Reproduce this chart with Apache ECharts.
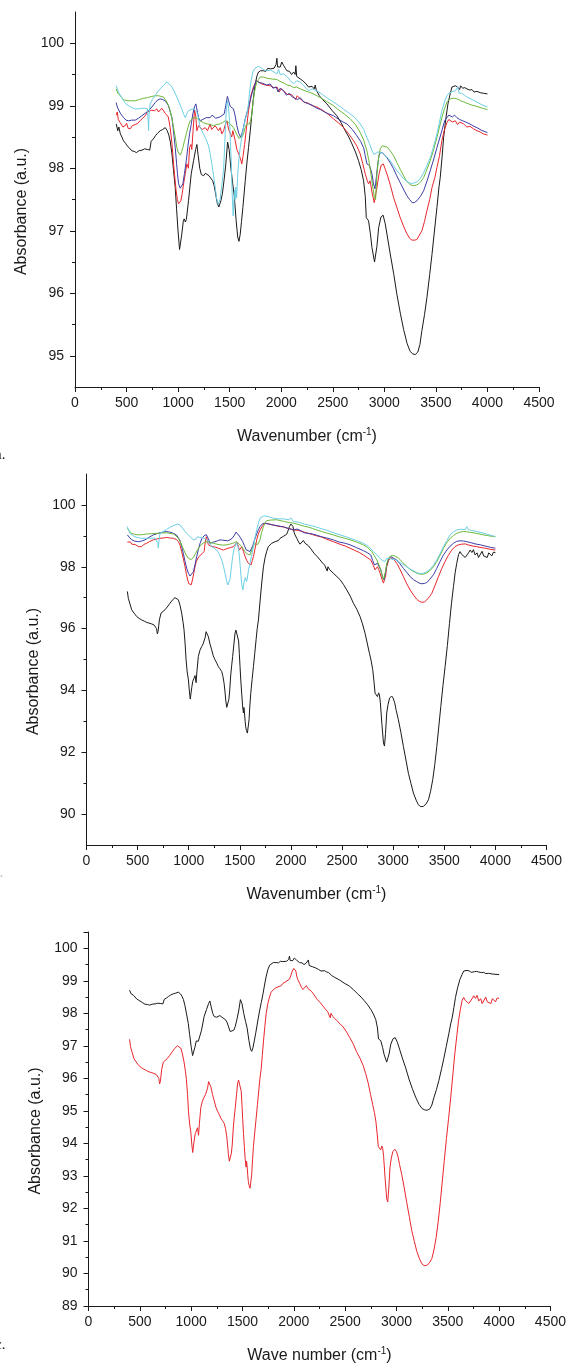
<!DOCTYPE html>
<html>
<head>
<meta charset="utf-8">
<script src="https://cdn.jsdelivr.net/npm/echarts@6/dist/echarts.min.js"></script>
<style>
  html, body { margin: 0; padding: 0; background: #fff; }
  #chart { width: 569px; height: 1367px; }
</style>
</head>
<body>
<div id="chart"></div>
<script>
// wavenumber / absorbance pairs

// panel a (also black curve of panel c)
var aBlack = [[400,98.71],[415,98.6],[425,98.66],[440,98.55],[455,98.5],[470,98.44],[490,98.4],[505,98.36],[525,98.33],[550,98.28],[575,98.27],[595,98.25],[620,98.28],[650,98.29],[675,98.31],[690,98.33],[705,98.3],[715,98.31],[725,98.29],[738,98.43],[760,98.47],[780,98.52],[800,98.56],[826,98.6],[850,98.62],[875,98.65],[895,98.6],[910,98.53],[925,98.42],[940,98.23],[955,97.98],[972,97.69],[985,97.35],[1000,96.98],[1014,96.7],[1022,96.67],[1036,96.95],[1050,97.15],[1059,97.19],[1070,97.14],[1080,97.18],[1101,97.48],[1127,97.91],[1150,98.12],[1170,98.3],[1182,98.38],[1195,98.2],[1210,98.0],[1225,97.9],[1247,97.88],[1265,97.92],[1280,97.93],[1300,97.88],[1318,97.85],[1335,97.8],[1350,97.72],[1365,97.58],[1380,97.44],[1395,97.38],[1415,97.48],[1430,97.6],[1445,97.8],[1463,98.07],[1480,98.42],[1495,98.3],[1512,98.0],[1530,97.75],[1545,97.55],[1563,97.16],[1578,96.9],[1590,96.83],[1602,96.94],[1615,97.15],[1628,97.37],[1651,97.8],[1668,98.1],[1683,98.33],[1700,98.6],[1715,98.87],[1730,99.12],[1748,99.35],[1765,99.48],[1780,99.54],[1800,99.56],[1828,99.56],[1850,99.55],[1870,99.6],[1893,99.59],[1910,99.56],[1930,99.6],[1950,99.66],[1958,99.76],[1965,99.62],[1975,99.65],[1990,99.62],[2005,99.7],[2016,99.7],[2025,99.64],[2040,99.6],[2055,99.56],[2080,99.55],[2100,99.5],[2120,99.54],[2135,99.5],[2142,99.64],[2150,99.47],[2165,99.44],[2184,99.43],[2210,99.4],[2240,99.35],[2265,99.3],[2300,99.31],[2320,99.27],[2330,99.33],[2340,99.25],[2370,99.16],[2400,99.1],[2443,99.03],[2490,98.93],[2540,98.84],[2580,98.73],[2621,98.6],[2655,98.5],[2686,98.39],[2720,98.26],[2750,98.12],[2775,97.98],[2799,97.8],[2815,97.55],[2825,97.21],[2847,97.16],[2865,96.95],[2880,96.73],[2905,96.5],[2918,96.47],[2928,96.75],[2945,97.05],[2967,97.22],[2988,97.25],[3009,97.11],[3030,96.9],[3057,96.63],[3090,96.32],[3122,95.98],[3155,95.68],[3187,95.42],[3220,95.2],[3250,95.07],[3275,95.03],[3300,95.02],[3325,95.06],[3345,95.18],[3364,95.4],[3390,95.66],[3413,95.93],[3440,96.3],[3462,96.62],[3485,96.98],[3510,97.37],[3530,97.7],[3542,97.85],[3560,98.18],[3575,98.49],[3597,98.8],[3617,99.03],[3640,99.2],[3656,99.3],[3670,99.28],[3688,99.32],[3710,99.3],[3730,99.26],[3740,99.32],[3760,99.28],[3780,99.29],[3801,99.27],[3830,99.25],[3850,99.26],[3870,99.22],[3898,99.23],[3930,99.21],[3960,99.2],[4000,99.19]];

var aRed = [[400,98.85],[410,98.9],[420,98.78],[438,98.73],[450,98.76],[465,98.66],[487,98.68],[500,98.72],[515,98.64],[535,98.63],[555,98.68],[570,98.65],[584,98.7],[610,98.72],[632,98.76],[655,98.8],[681,98.84],[703,98.9],[720,98.87],[745,98.93],[770,98.92],[794,98.95],[810,98.9],[826,98.9],[842,98.96],[859,98.95],[875,98.88],[891,98.9],[905,98.82],[923,98.65],[940,98.4],[956,98.07],[970,97.82],[981,97.64],[993,97.5],[1004,97.43],[1018,97.4],[1027,97.48],[1040,97.6],[1053,97.75],[1070,97.92],[1085,98.07],[1100,98.0],[1111,98.33],[1125,98.38],[1133,98.3],[1145,98.6],[1159,98.93],[1170,98.85],[1182,98.6],[1198,98.68],[1214,98.71],[1235,98.62],[1263,98.65],[1285,98.6],[1311,98.71],[1325,98.62],[1344,98.6],[1360,98.68],[1376,98.71],[1392,98.6],[1408,98.65],[1425,98.55],[1441,98.6],[1458,98.7],[1473,98.76],[1490,98.62],[1505,98.65],[1520,98.5],[1531,98.6],[1554,98.44],[1570,98.3],[1590,98.22],[1605,98.15],[1618,98.07],[1630,98.2],[1645,98.38],[1660,98.6],[1683,98.92],[1705,99.16],[1731,99.3],[1757,99.4],[1780,99.38],[1810,99.35],[1850,99.33],[1893,99.32],[1930,99.29],[1960,99.3],[1980,99.22],[2000,99.27],[2023,99.24],[2060,99.18],[2100,99.18],[2140,99.1],[2155,99.16],[2184,99.11],[2220,99.06],[2265,99.04],[2300,99.0],[2346,98.98],[2400,98.93],[2450,98.87],[2508,98.79],[2560,98.72],[2605,98.65],[2650,98.56],[2702,98.44],[2735,98.35],[2766,98.23],[2790,98.08],[2815,97.91],[2835,97.8],[2847,97.75],[2862,97.8],[2880,97.62],[2902,97.45],[2915,97.46],[2928,97.69],[2950,97.92],[2970,98.05],[2990,98.07],[3010,97.98],[3025,97.91],[3060,97.72],[3090,97.53],[3120,97.38],[3154,97.21],[3190,97.06],[3219,96.95],[3245,96.88],[3268,96.85],[3295,96.85],[3316,96.86],[3340,96.93],[3364,97.0],[3390,97.15],[3413,97.32],[3440,97.5],[3462,97.69],[3490,97.85],[3510,98.01],[3535,98.2],[3558,98.44],[3580,98.6],[3607,98.73],[3625,98.78],[3639,98.79],[3660,98.74],[3688,98.76],[3710,98.7],[3730,98.74],[3769,98.71],[3800,98.66],[3830,98.67],[3866,98.63],[3900,98.6],[3930,98.58],[3960,98.55],[4000,98.53]];

var aBlue = [[400,99.05],[410,98.98],[422,98.95],[440,98.88],[455,98.85],[471,98.81],[495,98.77],[519,98.76],[550,98.77],[584,98.77],[615,98.8],[648,98.84],[680,98.88],[713,98.92],[745,98.98],[778,99.05],[800,99.09],[826,99.11],[850,99.1],[875,99.08],[890,99.06],[907,99.0],[920,98.92],[940,98.81],[955,98.6],[972,98.33],[985,98.08],[994,97.91],[1005,97.75],[1020,97.68],[1030,97.68],[1046,97.75],[1062,97.92],[1079,98.12],[1095,98.35],[1111,98.55],[1127,98.7],[1143,98.87],[1158,98.98],[1172,99.03],[1182,99.0],[1198,98.81],[1215,98.76],[1231,98.76],[1250,98.79],[1272,98.81],[1290,98.78],[1311,98.81],[1330,98.85],[1344,98.84],[1365,98.8],[1382,98.79],[1405,98.82],[1424,98.81],[1447,98.87],[1462,99.0],[1478,99.15],[1490,99.08],[1505,98.99],[1520,98.97],[1537,98.95],[1552,98.85],[1570,98.68],[1588,98.56],[1605,98.5],[1618,98.55],[1634,98.65],[1652,98.8],[1673,98.92],[1695,99.05],[1715,99.19],[1735,99.3],[1757,99.4],[1790,99.37],[1820,99.36],[1860,99.33],[1893,99.35],[1920,99.28],[1950,99.3],[1970,99.22],[1990,99.28],[2023,99.24],[2050,99.17],[2080,99.2],[2100,99.15],[2130,99.12],[2160,99.1],[2184,99.13],[2220,99.06],[2265,99.03],[2300,99.01],[2346,98.96],[2380,98.94],[2420,98.9],[2460,98.87],[2508,98.84],[2560,98.78],[2600,98.74],[2637,98.71],[2690,98.62],[2734,98.52],[2770,98.43],[2799,98.33],[2815,98.2],[2831,98.07],[2845,98.05],[2857,98.04],[2870,97.97],[2880,97.91],[2895,97.75],[2910,97.67],[2920,97.7],[2935,98.05],[2948,98.2],[2965,98.26],[2980,98.27],[3000,98.22],[3025,98.17],[3060,98.08],[3090,97.99],[3120,97.88],[3154,97.77],[3190,97.65],[3219,97.56],[3245,97.5],[3270,97.45],[3290,97.45],[3316,97.48],[3350,97.55],[3381,97.64],[3415,97.8],[3445,97.96],[3480,98.15],[3510,98.33],[3535,98.47],[3558,98.6],[3585,98.76],[3607,98.81],[3625,98.85],[3639,98.84],[3660,98.82],[3680,98.85],[3704,98.81],[3730,98.78],[3760,98.76],[3801,98.73],[3840,98.7],[3870,98.67],[3898,98.65],[3940,98.61],[4000,98.57]];

var aGreen = [[400,99.27],[415,99.2],[438,99.16],[470,99.1],[503,99.08],[540,99.08],[584,99.08],[625,99.1],[665,99.12],[705,99.13],[745,99.15],[780,99.16],[810,99.16],[835,99.15],[859,99.14],[875,99.11],[891,99.06],[907,99.0],[923,98.92],[940,98.8],[956,98.65],[972,98.5],[988,98.33],[1000,98.26],[1014,98.23],[1022,98.21],[1035,98.27],[1046,98.33],[1062,98.44],[1079,98.55],[1098,98.67],[1117,98.76],[1140,98.8],[1166,98.81],[1190,98.79],[1214,98.76],[1245,98.73],[1279,98.71],[1310,98.7],[1344,98.68],[1375,98.7],[1408,98.71],[1430,98.73],[1457,98.76],[1480,98.74],[1505,98.71],[1520,98.68],[1537,98.65],[1558,98.58],[1576,98.52],[1590,98.48],[1605,98.46],[1620,98.5],[1634,98.55],[1650,98.65],[1667,98.71],[1680,98.72],[1693,98.71],[1705,98.78],[1715,98.87],[1727,99.05],[1738,99.19],[1750,99.3],[1764,99.38],[1780,99.42],[1796,99.46],[1830,99.46],[1861,99.44],[1900,99.43],[1958,99.42],[2000,99.38],[2030,99.36],[2060,99.33],[2090,99.32],[2120,99.29],[2150,99.3],[2184,99.27],[2230,99.24],[2265,99.22],[2300,99.2],[2346,99.16],[2400,99.11],[2450,99.06],[2508,99.0],[2560,98.93],[2610,98.87],[2669,98.79],[2720,98.7],[2766,98.57],[2800,98.45],[2831,98.28],[2850,98.12],[2870,97.91],[2888,97.7],[2902,97.55],[2915,97.5],[2928,97.9],[2945,98.18],[2960,98.31],[2980,98.36],[2998,98.38],[3025,98.34],[3057,98.28],[3090,98.2],[3122,98.09],[3155,97.98],[3187,97.88],[3210,97.81],[3235,97.76],[3260,97.73],[3284,97.72],[3310,97.73],[3332,97.75],[3355,97.79],[3381,97.85],[3410,97.97],[3445,98.12],[3475,98.28],[3510,98.49],[3535,98.66],[3558,98.81],[3585,98.96],[3607,99.06],[3630,99.1],[3656,99.12],[3680,99.12],[3704,99.11],[3740,99.08],[3770,99.06],[3801,99.04],[3850,99.01],[3898,98.99],[3950,98.96],[4000,98.94]];

var aCyan = [[400,99.32],[410,99.27],[422,99.22],[445,99.15],[471,99.08],[495,99.03],[519,99.0],[550,98.97],[584,98.95],[615,98.95],[648,98.96],[675,98.96],[703,98.95],[710,98.75],[713,98.6],[718,98.85],[729,99.03],[750,99.1],[778,99.16],[800,99.22],[826,99.27],[860,99.33],[891,99.38],[905,99.37],[920,99.34],[940,99.3],[965,99.22],[988,99.14],[1010,99.05],[1036,98.95],[1055,98.86],[1069,98.81],[1085,98.88],[1101,98.92],[1125,98.94],[1150,98.95],[1166,98.93],[1182,98.9],[1198,98.8],[1214,98.65],[1230,98.6],[1247,98.57],[1270,98.47],[1295,98.36],[1312,98.22],[1327,98.07],[1344,97.88],[1360,97.69],[1375,97.5],[1390,97.42],[1400,97.4],[1408,97.51],[1425,97.75],[1441,97.97],[1455,98.5],[1466,98.9],[1478,99.08],[1490,98.95],[1499,98.76],[1508,98.4],[1515,98.12],[1524,97.6],[1534,97.24],[1540,97.22],[1547,97.65],[1553,97.5],[1560,97.7],[1568,97.53],[1576,97.85],[1590,98.15],[1602,98.33],[1618,98.5],[1634,98.65],[1650,98.77],[1667,98.87],[1680,99.0],[1693,99.22],[1708,99.4],[1725,99.54],[1745,99.6],[1764,99.62],[1780,99.63],[1810,99.6],[1840,99.57],[1861,99.56],[1893,99.57],[1920,99.55],[1958,99.51],[1975,99.58],[1990,99.5],[2023,99.51],[2060,99.46],[2090,99.4],[2120,99.35],[2150,99.4],[2184,99.38],[2220,99.32],[2265,99.24],[2300,99.27],[2346,99.24],[2400,99.18],[2450,99.12],[2508,99.06],[2560,99.0],[2610,98.94],[2669,98.87],[2720,98.8],[2766,98.71],[2800,98.62],[2831,98.49],[2855,98.4],[2880,98.28],[2900,98.22],[2918,98.2],[2935,98.26],[2950,98.28],[2970,98.25],[2993,98.23],[3025,98.18],[3057,98.12],[3090,98.04],[3122,97.96],[3155,97.9],[3187,97.83],[3220,97.79],[3251,97.76],[3280,97.76],[3316,97.78],[3350,97.84],[3381,97.93],[3410,98.03],[3445,98.17],[3475,98.33],[3510,98.55],[3535,98.74],[3558,98.92],[3585,99.07],[3607,99.16],[3625,99.2],[3639,99.22],[3665,99.23],[3690,99.24],[3712,99.3],[3725,99.2],[3750,99.2],[3775,99.17],[3801,99.14],[3850,99.1],[3898,99.06],[3940,99.02],[4000,98.98]];

// panel b (black curve is also the red curve of panel c)
var bBlack = [[400,97.2],[409,96.98],[425,96.8],[442,96.61],[465,96.5],[491,96.39],[515,96.33],[540,96.28],[565,96.24],[589,96.2],[610,96.18],[638,96.15],[660,96.12],[675,96.1],[685,96.0],[693,95.83],[700,95.9],[707,96.1],[713,96.28],[729,96.5],[745,96.55],[768,96.61],[790,96.7],[817,96.82],[840,96.92],[866,97.0],[880,97.02],[899,96.93],[915,96.75],[931,96.5],[945,96.2],[954,95.96],[965,95.5],[974,94.99],[985,94.6],[997,94.34],[1007,93.95],[1015,93.72],[1022,93.75],[1030,94.1],[1040,94.3],[1050,94.38],[1062,94.48],[1072,94.25],[1080,94.6],[1094,95.1],[1110,95.3],[1127,95.42],[1140,95.5],[1150,95.53],[1160,95.7],[1170,95.9],[1180,95.95],[1192,95.74],[1208,95.5],[1225,95.31],[1240,95.12],[1257,94.99],[1275,94.88],[1290,94.77],[1305,94.7],[1323,94.61],[1335,94.45],[1346,94.23],[1355,93.95],[1362,93.69],[1372,93.45],[1385,93.4],[1392,93.7],[1400,93.95],[1411,94.5],[1420,94.8],[1430,95.1],[1442,95.5],[1453,95.85],[1462,95.95],[1472,96.0],[1480,95.9],[1488,95.6],[1495,95.2],[1502,94.77],[1510,94.3],[1518,93.91],[1527,93.5],[1535,93.27],[1540,93.45],[1545,93.3],[1552,93.0],[1557,92.83],[1565,92.7],[1574,92.62],[1582,92.58],[1590,93.05],[1598,93.5],[1607,93.91],[1620,94.35],[1633,94.77],[1646,95.2],[1659,95.64],[1670,96.0],[1682,96.28],[1693,96.7],[1705,97.15],[1718,97.6],[1731,98.0],[1747,98.3],[1763,98.5],[1779,98.65],[1796,98.71],[1812,98.76],[1830,98.8],[1845,98.81],[1860,98.86],[1878,98.85],[1894,98.92],[1910,98.9],[1925,98.98],[1942,99.03],[1958,99.05],[1970,99.15],[1985,99.3],[2000,99.38],[2012,99.42],[2020,99.3],[2030,99.12],[2040,99.03],[2057,98.92],[2075,98.8],[2089,98.73],[2105,98.76],[2122,98.85],[2138,98.76],[2155,98.72],[2171,98.68],[2190,98.6],[2203,98.54],[2230,98.42],[2260,98.32],[2285,98.22],[2310,98.12],[2330,98.05],[2344,98.0],[2355,97.86],[2362,98.0],[2380,97.9],[2415,97.79],[2450,97.68],[2481,97.58],[2515,97.42],[2546,97.25],[2580,97.05],[2611,96.82],[2645,96.62],[2676,96.39],[2700,96.15],[2725,95.85],[2748,95.5],[2768,95.2],[2785,94.95],[2800,94.67],[2812,94.3],[2823,93.91],[2835,93.85],[2846,93.8],[2858,93.92],[2866,93.85],[2875,93.6],[2890,92.9],[2905,92.3],[2915,92.2],[2925,92.6],[2937,93.27],[2950,93.55],[2965,93.75],[2985,93.82],[3000,93.75],[3015,93.6],[3030,93.35],[3051,93.05],[3075,92.65],[3100,92.19],[3125,91.75],[3149,91.32],[3175,90.98],[3198,90.68],[3225,90.45],[3247,90.3],[3270,90.24],[3296,90.25],[3320,90.32],[3345,90.46],[3365,90.72],[3387,91.11],[3407,91.6],[3427,92.19],[3447,92.85],[3466,93.48],[3487,94.15],[3508,94.77],[3530,95.45],[3551,96.17],[3570,96.8],[3590,97.36],[3606,97.8],[3622,98.11],[3640,98.4],[3655,98.49],[3670,98.4],[3688,98.38],[3705,98.3],[3720,98.28],[3737,98.45],[3753,98.54],[3770,98.46],[3785,98.55],[3802,98.38],[3820,98.45],[3835,98.3],[3851,98.36],[3870,98.5],[3885,98.35],[3900,98.41],[3920,98.3],[3935,98.45],[3949,98.44],[3965,98.35],[3980,98.47],[4000,98.46]];

var bRed = [[400,98.8],[415,98.75],[430,98.8],[442,98.73],[460,98.68],[475,98.72],[491,98.68],[510,98.65],[525,98.7],[540,98.65],[560,98.72],[589,98.76],[620,98.82],[654,98.87],[690,98.9],[719,98.92],[750,98.93],[784,98.95],[815,98.93],[850,98.92],[880,98.88],[899,98.81],[915,98.7],[931,98.49],[948,98.25],[964,98.0],[978,97.75],[990,97.57],[1002,97.45],[1013,97.41],[1025,97.42],[1036,97.57],[1050,97.8],[1062,98.0],[1075,98.18],[1085,98.15],[1098,98.32],[1111,98.38],[1130,98.42],[1150,98.49],[1162,98.8],[1172,98.97],[1182,98.85],[1192,98.71],[1215,98.67],[1241,98.65],[1265,98.63],[1290,98.6],[1315,98.57],[1339,98.54],[1362,98.57],[1388,98.6],[1410,98.62],[1437,98.65],[1455,98.7],[1470,98.78],[1482,98.7],[1496,98.54],[1508,98.6],[1518,98.65],[1535,98.5],[1551,98.33],[1568,98.2],[1584,98.11],[1598,98.07],[1610,98.06],[1622,98.2],[1633,98.33],[1650,98.6],[1665,98.87],[1680,99.05],[1698,99.19],[1720,99.32],[1747,99.41],[1780,99.39],[1812,99.36],[1850,99.33],[1894,99.3],[1926,99.29],[1960,99.25],[2000,99.22],[2024,99.19],[2060,99.18],[2089,99.16],[2130,99.12],[2171,99.08],[2210,99.04],[2252,99.0],[2300,98.96],[2350,98.89],[2415,98.81],[2470,98.74],[2530,98.67],[2578,98.6],[2630,98.52],[2670,98.46],[2709,98.38],[2745,98.3],[2781,98.22],[2805,98.05],[2823,97.9],[2835,97.95],[2846,98.0],[2860,97.9],[2872,97.79],[2890,97.6],[2905,97.47],[2915,97.46],[2925,97.7],[2937,98.0],[2955,98.2],[2976,98.29],[2992,98.3],[3010,98.22],[3035,98.11],[3065,97.93],[3100,97.68],[3133,97.45],[3166,97.25],[3200,97.08],[3231,96.95],[3255,96.88],[3280,96.85],[3305,96.86],[3329,96.93],[3355,97.03],[3378,97.14],[3410,97.4],[3443,97.68],[3475,97.94],[3508,98.17],[3540,98.37],[3573,98.54],[3605,98.65],[3639,98.71],[3670,98.73],[3704,98.74],[3740,98.7],[3780,98.67],[3818,98.65],[3860,98.62],[3900,98.6],[3940,98.57],[4000,98.54]];

var bBlue = [[400,99.03],[420,98.95],[442,98.87],[470,98.83],[507,98.81],[540,98.83],[572,98.87],[610,98.95],[654,99.03],[690,99.07],[719,99.1],[750,99.12],[784,99.14],[815,99.12],[850,99.08],[880,99.03],[899,98.97],[915,98.85],[931,98.65],[948,98.42],[964,98.17],[980,97.95],[997,97.79],[1013,97.7],[1030,97.68],[1046,97.84],[1062,98.08],[1078,98.33],[1095,98.56],[1111,98.76],[1130,98.92],[1150,99.0],[1172,99.04],[1190,98.92],[1209,98.76],[1233,98.79],[1257,98.81],[1282,98.84],[1306,98.87],[1330,98.86],[1355,98.85],[1380,98.84],[1404,98.87],[1425,98.92],[1443,99.0],[1463,99.12],[1478,99.15],[1496,98.99],[1512,98.9],[1528,98.81],[1545,98.68],[1561,98.55],[1580,98.5],[1600,98.49],[1612,98.52],[1626,98.68],[1645,98.88],[1665,99.06],[1682,99.2],[1698,99.3],[1715,99.37],[1737,99.41],[1780,99.38],[1828,99.35],[1880,99.32],[1926,99.29],[1975,99.24],[2024,99.19],[2060,99.22],[2089,99.18],[2130,99.1],[2171,99.08],[2210,99.06],[2252,99.02],[2300,98.97],[2350,98.93],[2415,98.87],[2470,98.8],[2530,98.76],[2578,98.71],[2640,98.62],[2709,98.52],[2750,98.45],[2781,98.38],[2800,98.2],[2817,98.06],[2832,98.1],[2846,98.11],[2862,98.0],[2879,97.9],[2895,97.68],[2910,97.57],[2918,97.58],[2928,97.85],[2937,98.06],[2955,98.25],[2976,98.33],[3000,98.28],[3035,98.22],[3065,98.1],[3100,97.95],[3133,97.82],[3166,97.68],[3200,97.58],[3231,97.52],[3255,97.47],[3280,97.45],[3305,97.46],[3329,97.49],[3360,97.6],[3394,97.74],[3425,97.94],[3459,98.17],[3490,98.37],[3525,98.54],[3555,98.66],[3590,98.76],[3620,98.82],[3655,98.84],[3690,98.83],[3720,98.81],[3760,98.78],[3800,98.74],[3851,98.71],[3900,98.67],[3950,98.63],[4000,98.6]];

var bGreen = [[400,99.24],[420,99.15],[442,99.08],[470,99.05],[507,99.03],[545,99.04],[589,99.06],[640,99.07],[686,99.08],[735,99.09],[784,99.1],[815,99.08],[850,99.06],[875,99.0],[899,98.92],[918,98.8],[938,98.65],[955,98.52],[974,98.38],[995,98.28],[1013,98.22],[1025,98.23],[1046,98.31],[1065,98.42],[1085,98.54],[1105,98.65],[1127,98.73],[1150,98.78],[1176,98.81],[1205,98.79],[1241,98.76],[1275,98.73],[1306,98.71],[1340,98.7],[1372,98.71],[1400,98.73],[1430,98.76],[1450,98.79],[1470,98.81],[1490,98.75],[1518,98.65],[1535,98.57],[1551,98.49],[1568,98.42],[1584,98.38],[1600,98.38],[1617,98.54],[1633,98.68],[1649,98.76],[1660,98.73],[1672,98.71],[1685,98.72],[1698,98.87],[1712,99.1],[1731,99.3],[1747,99.42],[1763,99.49],[1800,99.51],[1861,99.52],[1926,99.47],[1980,99.43],[2024,99.41],[2060,99.38],[2089,99.35],[2130,99.31],[2171,99.28],[2210,99.24],[2252,99.19],[2300,99.14],[2350,99.09],[2415,99.03],[2470,98.97],[2530,98.92],[2578,98.87],[2640,98.8],[2709,98.71],[2750,98.62],[2790,98.49],[2815,98.36],[2840,98.22],[2860,98.07],[2879,97.9],[2893,97.7],[2905,97.58],[2915,97.56],[2925,97.85],[2937,98.11],[2955,98.28],[2975,98.35],[2990,98.38],[3010,98.36],[3051,98.28],[3085,98.17],[3117,98.06],[3150,97.96],[3182,97.88],[3215,97.82],[3247,97.77],[3270,97.76],[3296,97.76],[3330,97.8],[3361,97.88],[3395,98.0],[3427,98.17],[3460,98.38],[3492,98.6],[3525,98.78],[3557,98.92],[3590,99.01],[3622,99.08],[3655,99.12],[3688,99.14],[3720,99.13],[3760,99.11],[3818,99.08],[3870,99.04],[3920,99.01],[3974,98.98],[4000,98.97]];

var bCyan = [[400,99.3],[412,99.18],[425,99.08],[450,99.02],[474,98.97],[505,98.94],[540,98.92],[570,98.92],[605,98.92],[640,98.92],[670,98.93],[686,98.92],[698,98.75],[703,98.6],[708,98.8],[719,99.08],[750,99.14],[784,99.21],[820,99.28],[850,99.33],[866,99.37],[890,99.38],[915,99.35],[940,99.25],[964,99.14],[990,99.05],[1013,98.97],[1030,98.92],[1046,98.87],[1060,98.85],[1072,98.9],[1085,98.97],[1105,98.95],[1127,98.95],[1150,98.92],[1176,98.87],[1200,98.77],[1225,98.65],[1250,98.6],[1274,98.54],[1300,98.4],[1323,98.22],[1340,98.02],[1355,97.79],[1370,97.55],[1382,97.41],[1395,97.4],[1404,97.6],[1418,98.0],[1430,98.33],[1442,98.55],[1453,98.65],[1465,98.78],[1475,98.81],[1487,98.6],[1496,98.33],[1504,98.0],[1512,97.68],[1520,97.4],[1530,97.25],[1538,97.22],[1545,97.57],[1553,97.65],[1561,97.68],[1566,97.52],[1572,97.6],[1585,97.9],[1600,98.11],[1617,98.4],[1633,98.65],[1649,98.95],[1665,99.19],[1682,99.42],[1698,99.57],[1715,99.62],[1731,99.64],[1763,99.64],[1800,99.6],[1828,99.57],[1870,99.55],[1926,99.55],[1980,99.52],[2000,99.58],[2024,99.46],[2060,99.45],[2089,99.43],[2130,99.38],[2171,99.35],[2185,99.4],[2210,99.32],[2252,99.28],[2300,99.23],[2350,99.18],[2415,99.1],[2470,99.04],[2530,98.98],[2578,98.92],[2640,98.85],[2709,98.76],[2760,98.65],[2807,98.49],[2840,98.38],[2872,98.27],[2895,98.2],[2910,98.17],[2920,98.17],[2937,98.27],[2960,98.27],[2986,98.25],[3020,98.22],[3051,98.17],[3085,98.1],[3117,98.03],[3150,97.96],[3182,97.9],[3215,97.84],[3247,97.79],[3270,97.78],[3296,97.79],[3330,97.84],[3361,97.92],[3395,98.05],[3427,98.22],[3460,98.43],[3492,98.65],[3525,98.85],[3557,99.03],[3590,99.13],[3622,99.19],[3650,99.21],[3671,99.21],[3690,99.22],[3705,99.2],[3720,99.3],[3735,99.2],[3770,99.17],[3818,99.14],[3870,99.1],[3920,99.05],[3974,99.0],[4000,98.98]];

// tick values
var aMajor = [95, 96, 97, 98, 99, 100];
var aMinor = [95.5, 96.5, 97.5, 98.5, 99.5];
var bMajor = [90, 92, 94, 96, 98, 100];
var bMinor = [91, 93, 95, 97, 99];

var font = "'Liberation Sans', Arial, sans-serif";
var ink = '#1a1a1a';
var colors = { black: '#1a1a1a', red: '#e8262d', blue: '#3c3ea6', green: '#6cb93a', cyan: '#6ccfe4' };

var grids = [
  { left: 75, top: 12, width: 464, height: 375 },
  { left: 86.5, top: 474, width: 460, height: 371 },
  { left: 88.5, top: 932, width: 465.5, height: 376.5 }
];

function plain(v) { return String(v); }

function xAxisFor(gi, title) {
  return {
    type: 'value', gridIndex: gi, min: 0, max: 4500, interval: 500, position: 'bottom',
    name: title, nameLocation: 'middle', nameGap: 40,
    nameTextStyle: {
      fontFamily: font, fontSize: 16, color: ink, lineHeight: 20,
      rich: { sup: { fontFamily: font, fontSize: 10, lineHeight: 20, verticalAlign: 'top', padding: [0, 0, 8, 0], color: ink } }
    },
    axisLine: { show: true, onZero: false, lineStyle: { color: ink, width: 1 } },
    axisTick: { show: true, inside: false, length: 5, lineStyle: { color: ink } },
    minorTick: { show: true, splitNumber: 2, length: 3, lineStyle: { color: ink } },
    axisLabel: { fontFamily: font, fontSize: 14, color: ink, margin: 9, showMinLabel: true, showMaxLabel: true, formatter: plain },
    splitLine: { show: false }
  };
}

function yMajor(gi, min, max, ticks) {
  return {
    type: 'value', gridIndex: gi, min: min, max: max, position: 'left',
    name: 'Absorbance (a.u.)', nameLocation: 'middle', nameGap: 44,
    nameTextStyle: { fontFamily: font, fontSize: 16, color: ink, padding: [0, 24, 0, 0] },
    axisLine: { show: true, onZero: false, lineStyle: { color: ink, width: 1 } },
    axisTick: { show: true, inside: false, length: 5, customValues: ticks, lineStyle: { color: ink } },
    axisLabel: { fontFamily: font, fontSize: 14, color: ink, margin: 11, customValues: ticks, formatter: plain },
    splitLine: { show: false }
  };
}

function yMinor(gi, min, max, ticks) {
  return {
    type: 'value', gridIndex: gi, min: min, max: max, position: 'left',
    axisLine: { show: false },
    axisTick: { show: true, inside: false, length: 3, customValues: ticks, lineStyle: { color: ink } },
    axisLabel: { show: false, customValues: ticks },
    splitLine: { show: false }
  };
}

function line(data, color, xi, yi) {
  return {
    type: 'line', data: data, xAxisIndex: xi, yAxisIndex: yi,
    showSymbol: false, symbol: 'none', smooth: false, silent: true,
    lineStyle: { color: color, width: 1 }
  };
}

var chart = echarts.init(document.getElementById('chart'));
var sup = 'Wavenumber (cm{sup|-1})';

chart.setOption({
  animation: false,
  backgroundColor: '#fff',
  grid: grids,
  xAxis: [
    xAxisFor(0, sup),
    xAxisFor(1, sup),
    xAxisFor(2, 'Wave number (cm{sup|-1})')
  ],
  yAxis: [
    yMajor(0, 94.5, 100.5, aMajor),
    yMinor(0, 94.5, 100.5, aMinor),
    yMajor(1, 89, 101, bMajor),
    yMinor(1, 89, 101, bMinor),
    {
      type: 'value', gridIndex: 2, min: 89, max: 100.5, interval: 1, position: 'left',
      name: 'Absorbance (a.u.)', nameLocation: 'middle', nameGap: 44,
      nameTextStyle: { fontFamily: font, fontSize: 16, color: ink, padding: [0, 24, 0, 0] },
      axisLine: { show: true, onZero: false, lineStyle: { color: ink, width: 1 } },
      axisTick: { show: true, inside: false, length: 5, lineStyle: { color: ink } },
      minorTick: { show: true, splitNumber: 2, length: 3, lineStyle: { color: ink } },
      axisLabel: { fontFamily: font, fontSize: 14, color: ink, margin: 11, showMaxLabel: false,
        formatter: function (v) { return v % 1 === 0 ? String(v) : ''; } },
      splitLine: { show: false }
    }
  ],
  series: [
    line(aBlack, colors.black, 0, 0),
    line(aRed, colors.red, 0, 0),
    line(aBlue, colors.blue, 0, 0),
    line(aGreen, colors.green, 0, 0),
    line(aCyan, colors.cyan, 0, 0),
    line(bBlack, colors.black, 1, 2),
    line(bRed, colors.red, 1, 2),
    line(bBlue, colors.blue, 1, 2),
    line(bGreen, colors.green, 1, 2),
    line(bCyan, colors.cyan, 1, 2),
    line(aBlack, colors.black, 2, 4),
    line(bBlack, colors.red, 2, 4)
  ],
  graphic: [
    { type: 'text', left: -5, top: 448, style: { text: 'a.', font: '15px serif', fill: ink } },
    { type: 'text', left: -8, top: 866, style: { text: 'b.', font: '15px serif', fill: '#bbb' } },
    { type: 'text', left: -5, top: 1338, style: { text: 'c.', font: '15px serif', fill: ink } }
  ]
});
</script>
</body>
</html>
